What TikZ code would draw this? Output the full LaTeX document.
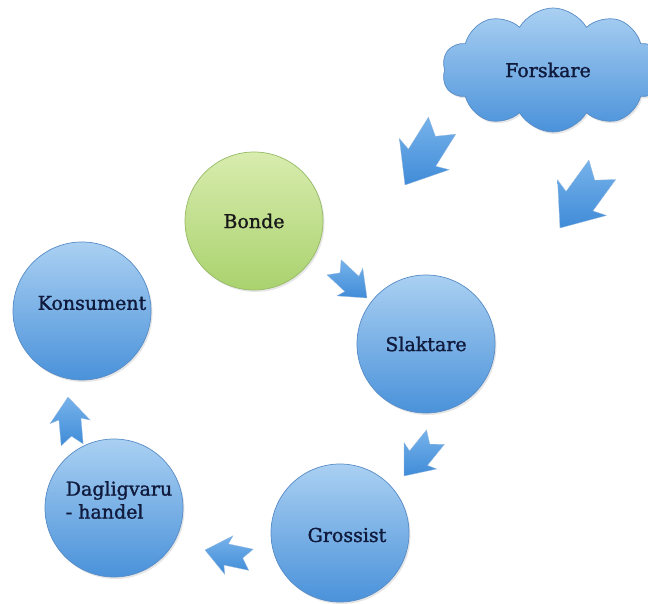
\documentclass[tikz,border=0pt]{standalone}
\usepackage{fontspec}
\setmainfont{DejaVu Serif}
\newfontfamily\stagefont[FakeBold=1.4]{DejaVu Serif}
\usetikzlibrary{shapes.symbols,shadows}
\definecolor{bluetop}{RGB}{170,208,242}
\definecolor{bluebot}{RGB}{74,146,218}
\definecolor{blueline}{RGB}{88,140,198}
\definecolor{greentop}{RGB}{216,236,174}
\definecolor{greenbot}{RGB}{170,210,110}
\definecolor{greenline}{RGB}{150,186,102}
\definecolor{arrowlight}{RGB}{118,178,234}
\definecolor{arrowdark}{RGB}{64,140,216}
\definecolor{textblue}{RGB}{16,26,60}
\tikzset{
  stage/.style={circle, draw=blueline, line width=0.7pt,
    top color=bluetop, bottom color=bluebot,
    minimum size=138pt, inner sep=0pt,
    font=\stagefont\fontsize{19}{23}\selectfont, text=textblue,
    drop shadow={shadow xshift=1.5pt, shadow yshift=-2pt, opacity=0.2}},
  farmer/.style={stage, draw=greenline, top color=greentop,
    bottom color=greenbot, text=black!90},
  stagetext/.style={font=\stagefont\fontsize{19}{23}\selectfont, text=textblue},
  flowarrow/.pic={
    \shade[top color=arrowlight, bottom color=arrowdark,
      draw=blueline!60, line width=0.3pt]
      (0,0) -- (-0.52,0.42) -- (-0.46,0.23) -- (-1,0.23) -- (-0.82,0)
      -- (-1,-0.23) -- (-0.46,-0.23) -- (-0.52,-0.42) -- cycle;
  }
}
\begin{document}
\begin{tikzpicture}[x=1pt,y=1pt]
  \useasboundingbox (0,0) rectangle (648,603);
  \node[cloud, cloud puffs=10, cloud puff arc=120, aspect=1.75,
    minimum width=222pt, minimum height=124pt, draw=blueline,
    line width=0.7pt, top color=bluetop, bottom color=bluebot,
    drop shadow={shadow xshift=1.5pt, shadow yshift=-2pt, opacity=0.2}]
    (forskare) at (553,533) {};
  \node[stagetext] (forskaretext) at (548,533) {Forskare};

  \node[farmer] (bonde) at (254,382) {Bonde};
  \node[stage] (slaktare) at (426,259) {Slaktare};
  \node[stage] (grossist) at (340,70) {};
  \node[stage] (handel) at (114,95) {};
  \node[stage] (konsument) at (82,292) {};
  \node[stagetext] (grossisttext) at ([xshift=7pt,yshift=-2pt]grossist.center) {Grossist};
  \node[stagetext, align=left] (handeltext) at ([xshift=5pt,yshift=8pt]handel.center) {Dagligvaru\\- handel};
  \node[stagetext] (konsumenttext) at ([xshift=10pt,yshift=8pt]konsument.center) {Konsument};

  \pic[rotate=238, scale=70] at (405,418) {flowarrow};
  \pic[rotate=234, scale=72] at (560,375) {flowarrow};
  \pic[rotate=-43, scale=45] at (367,305) {flowarrow};
  \pic[rotate=231, scale=50] at (404,127) {flowarrow};
  \pic[rotate=168, scale=47] at (205,53) {flowarrow};
  \pic[rotate=95, scale=48] at (68,206) {flowarrow};
\end{tikzpicture}
\end{document}
